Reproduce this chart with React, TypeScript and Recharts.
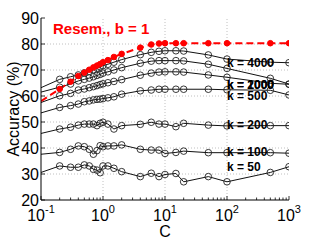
import { LineChart, Line, XAxis, YAxis, ReferenceLine, ReferenceDot, Label } from "recharts"

const FONT = "'Liberation Sans', Arial, Helvetica, sans-serif"

// C values (log axis)
const cValues = [0.1, 0.2, 0.3, 0.4, 0.5, 0.6, 0.7, 0.8, 0.9, 1, 1.2, 1.5, 2, 4, 6, 8, 10, 15, 20, 50, 100, 500, 1000]

// accuracy (%) per series
const resem = [58.0, 62.7, 65.5, 67.7, 69.0, 70.1, 71.0, 71.7, 72.3, 73.0, 73.8, 75.0, 76.2, 78.6, 79.8, 80.2, 80.3, 80.3, 80.3, 80.3, 80.3, 80.3, 80.3]
const k4000 = [63.2, 66.4, 67.4, 68.1, 68.9, 69.5, 70.1, 70.7, 71.2, 71.7, 72.2, 73.0, 74.0, 75.9, 76.8, 77.2, 77.4, 77.4, 77.3, 75.8, 74.2, 73.0, 72.8]
const k2000 = [61.5, 63.4, 64.6, 65.8, 66.4, 66.9, 67.4, 67.9, 68.3, 68.8, 69.3, 70.0, 70.9, 72.6, 73.4, 73.6, 73.6, 73.6, 73.5, 72.2, 70.6, 66.8, 64.6]
const k1000 = [57.5, 60.1, 61.0, 62.3, 62.7, 63.2, 63.6, 64.0, 64.4, 64.7, 65.1, 65.6, 66.3, 68.0, 68.8, 69.2, 69.3, 69.3, 69.2, 68.1, 67.2, 64.9, 64.5]
const k500 = [53.5, 55.6, 56.3, 56.9, 57.8, 58.1, 58.5, 58.7, 58.8, 59.0, 59.3, 59.7, 60.7, 62.0, 62.3, 62.6, 62.6, 62.6, 62.6, 62.6, 62.4, 62.2, 60.4]
const k200 = [45.6, 47.3, 48.0, 48.8, 49.2, 49.2, 49.2, 48.6, 49.5, 49.9, 49.2, 47.3, 48.6, 49.1, 49.9, 49.2, 49.2, 48.2, 49.5, 48.8, 48.5, 48.6, 48.6]
const k100 = [37.6, 38.3, 39.5, 40.8, 40.5, 39.5, 37.6, 39.0, 40.9, 40.5, 40.8, 40.8, 41.2, 39.5, 39.2, 39.2, 37.9, 38.3, 38.8, 38.2, 38.2, 38.2, 38.0]
const k50 = [30.6, 33.1, 32.6, 32.6, 33.5, 33.1, 31.8, 31.5, 30.5, 33.1, 33.1, 32.2, 30.9, 29.0, 30.3, 29.0, 29.8, 30.2, 27.0, 29.0, 27.0, 30.6, 32.8]

const kSeries = [
  { key: "k4000", values: k4000 },
  { key: "k2000", values: k2000 },
  { key: "k1000", values: k1000 },
  { key: "k500", values: k500 },
  { key: "k200", values: k200 },
  { key: "k100", values: k100 },
  { key: "k50", values: k50 },
]

// text annotations: label, C, accuracy
const kLabels = [
  { text: "k = 4000", c: 100, acc: 72.7 },
  { text: "k = 2000", c: 100, acc: 64.2 },
  { text: "k = 1000", c: 100, acc: 64.2 },
  { text: "k = 500", c: 100, acc: 60.0 },
  { text: "k = 200", c: 100, acc: 48.8 },
  { text: "k = 100", c: 100, acc: 38.3 },
  { text: "k = 50", c: 100, acc: 32.7 },
]

const xMajors = [0.1, 1, 10, 100, 1000]
const xExponents = ["-1", "0", "1", "2", "3"]
const yTicks = [20, 30, 40, 50, 60, 70, 80, 90]
const xGrid = [1, 10, 100]
const yGrid = [30, 40, 50, 60, 70, 80]

const xTicks: number[] = []
xMajors.slice(0, -1).forEach((d) => {
  for (let m = 1; m <= 9; m++) xTicks.push(d * m)
})
xTicks.push(1000)

const data = cValues.map((c, i) => {
  const row: any = { c, resem: resem[i] }
  kSeries.forEach((s) => (row[s.key] = s.values[i]))
  return row
})

const isMajor = (v: number) => xMajors.some((m) => Math.abs(m - v) / m < 1e-6)

const BottomTick = (props: any) => {
  const { x, y, payload } = props
  const major = isMajor(payload.value)
  const idx = xMajors.findIndex((m) => Math.abs(m - payload.value) / m < 1e-6)
  return (
    <g>
      <line x1={x} x2={x} y1={y} y2={y - (major ? 4 : 2.5)} stroke="#000" strokeWidth={0.8} />
      {major && (
        <text x={x} y={y + 21} textAnchor="middle" fontSize={16} fontFamily={FONT} fill="#000">
          <tspan>10</tspan>
          <tspan dy={-8} fontSize={11}>{xExponents[idx]}</tspan>
        </text>
      )}
    </g>
  )
}

const TopTick = (props: any) => {
  const { x, y, payload } = props
  const major = isMajor(payload.value)
  return <line x1={x} x2={x} y1={y} y2={y + (major ? 4 : 2.5)} stroke="#000" strokeWidth={0.8} />
}

const LeftTick = (props: any) => {
  const { x, y, payload } = props
  return (
    <g>
      <line x1={x} x2={x + 4} y1={y} y2={y} stroke="#000" strokeWidth={0.8} />
      <text x={x - 2} y={y} textAnchor="end" dominantBaseline="central" fontSize={16} fontFamily={FONT} fill="#000">
        {payload.value}
      </text>
    </g>
  )
}

const RightTick = (props: any) => {
  const { x, y } = props
  return <line x1={x} x2={x - 4} y1={y} y2={y} stroke="#000" strokeWidth={0.8} />
}

const hollowDot = (props: any) => {
  const { cx, cy, index, dataKey } = props
  if (index === 0) return <g key={`d-${dataKey}-${index}`} />
  return <circle key={`d-${dataKey}-${index}`} cx={cx} cy={cy} r={3.3} fill="none" stroke="#222" strokeWidth={0.9} />
}

const redDot = (props: any) => {
  const { cx, cy, index } = props
  if (index === 0) return <g key={`r-${index}`} />
  return <circle key={`r-${index}`} cx={cx} cy={cy} r={2.8} fill="#ff0000" stroke="#ff0000" />
}

const textLabel = (text: string, color: string, size: number) => (props: any) => {
  const vb = props.viewBox || {}
  return (
    <text x={vb.x} y={vb.y} dominantBaseline="central" textAnchor="start" fontSize={size} fontWeight="bold" fontFamily={FONT} fill={color}>
      {text}
    </text>
  )
}

export default function App() {
  return (
    <div style={{ position: "absolute", left: 0, top: 0, background: "#fff" }}>
      <LineChart width={319} height={240} data={data} margin={{ top: 18, right: 30, bottom: 0, left: 1 }}>
        <XAxis
          dataKey="c"
          type="number"
          scale="log"
          domain={[0.1, 1000]}
          allowDataOverflow
          ticks={xTicks}
          interval={0}
          tickSize={0}
          tickMargin={0}
          tickLine={false}
          tick={<BottomTick />}
          axisLine={{ stroke: "#000", strokeWidth: 1 }}
          height={40}
        >
          <Label
            content={(p: any) => {
              const vb = p.viewBox
              return (
                <text x={vb.x + vb.width / 2} y={vb.y + 31} textAnchor="middle" dominantBaseline="central" fontSize={16} fontFamily={FONT} fill="#000">
                  C
                </text>
              )
            }}
          />
        </XAxis>
        <XAxis
          xAxisId="top"
          orientation="top"
          type="number"
          scale="log"
          domain={[0.1, 1000]}
          allowDataOverflow
          ticks={xTicks}
          interval={0}
          tickSize={0}
          tickMargin={0}
          tickLine={false}
          tick={<TopTick />}
          axisLine={{ stroke: "#000", strokeWidth: 1 }}
          height={0}
        />
        <YAxis
          type="number"
          domain={[20, 90]}
          ticks={yTicks}
          interval={0}
          tickSize={0}
          tickMargin={0}
          tickLine={false}
          tick={<LeftTick />}
          axisLine={{ stroke: "#000", strokeWidth: 1 }}
          width={40}
        >
          <Label
            content={(p: any) => {
              const vb = p.viewBox
              const cx = vb.x + 12
              const cy = vb.y + vb.height / 2
              return (
                <text x={cx} y={cy} transform={`rotate(-90 ${cx} ${cy})`} textAnchor="middle" dominantBaseline="central" fontSize={16} fontFamily={FONT} fill="#000">
                  Accuracy (%)
                </text>
              )
            }}
          />
        </YAxis>
        <YAxis
          yAxisId="right"
          orientation="right"
          type="number"
          domain={[20, 90]}
          ticks={yTicks}
          interval={0}
          tickSize={0}
          tickMargin={0}
          tickLine={false}
          tick={<RightTick />}
          axisLine={{ stroke: "#000", strokeWidth: 1 }}
          width={0}
        />
        {xGrid.map((v) => (
          <ReferenceLine key={`gx${v}`} x={v} stroke="#b0b0b0" strokeDasharray="1 2" strokeWidth={0.8} />
        ))}
        {yGrid.map((v) => (
          <ReferenceLine key={`gy${v}`} y={v} stroke="#b0b0b0" strokeDasharray="1 2" strokeWidth={0.8} />
        ))}
        {kSeries.map((s) => (
          <Line
            key={s.key}
            dataKey={s.key}
            type="linear"
            stroke="#111"
            strokeWidth={1}
            dot={hollowDot}
            activeDot={false}
            isAnimationActive={false}
          />
        ))}
        <Line
          dataKey="resem"
          type="linear"
          stroke="#ff0000"
          strokeWidth={2}
          strokeDasharray="7 4"
          dot={redDot}
          activeDot={false}
          isAnimationActive={false}
        />
        {kLabels.map((l) => (
          <ReferenceDot key={l.text} x={l.c} y={l.acc} r={0} stroke="none" fill="none" label={textLabel(l.text, "#000", 12)} />
        ))}
        <ReferenceDot x={0.156} y={85.8} r={0} stroke="none" fill="none" label={textLabel("Resem., b = 1", "#ff0000", 15)} />
      </LineChart>
    </div>
  )
}
